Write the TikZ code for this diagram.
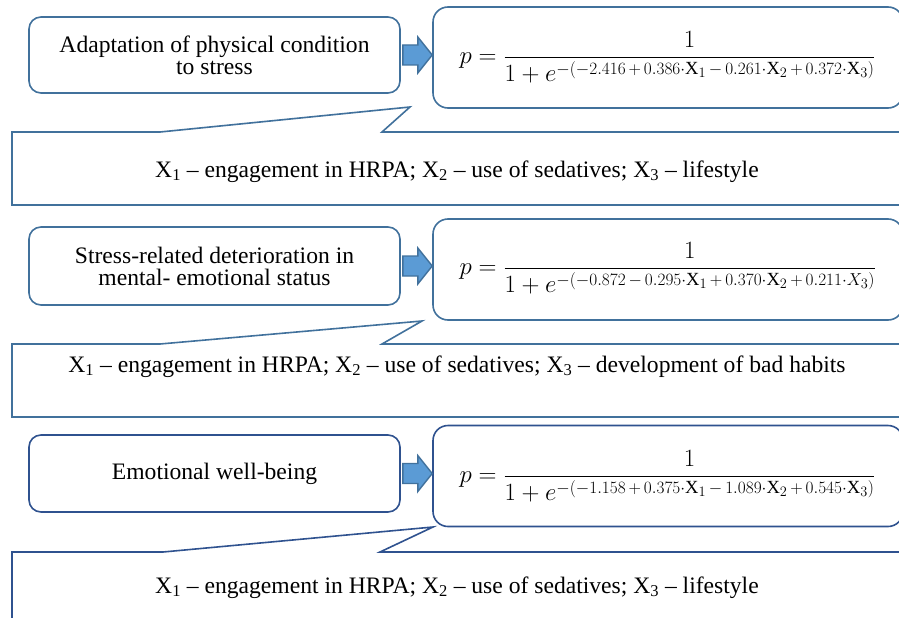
\documentclass[tikz,border=0pt]{standalone}
\usepackage{amsmath}
\usepackage{fontspec}
\setmainfont{Liberation Serif}
\usetikzlibrary{calc}

\definecolor{boxblue}{HTML}{41719C}
\definecolor{darkblue}{HTML}{2F528F}
\definecolor{arrowblue}{HTML}{5B9BD5}

\newcommand{\bop}[1]{\mkern3mu#1\mkern3mu}

\tikzset{
  factor/.style={draw=boxblue,line width=1.6pt,fill=white,rounded corners=12pt,
    minimum width=371pt,minimum height=76pt,align=center,
    font=\fontsize{23.6}{22}\selectfont},
  model/.style={draw=boxblue,line width=1.6pt,fill=white,rounded corners=15pt,
    minimum width=470pt,minimum height=101pt},
  note/.style={draw=boxblue,line width=1.6pt,fill=white,line join=miter},
  notetext/.style={anchor=base,font=\fontsize{23.6}{26}\selectfont},
  formula/.style={anchor=west,font=\fontsize{26.5}{30}\selectfont},
  blockarrow/.style={draw=boxblue,line width=1.4pt,fill=arrowblue,line join=miter}
}

\begin{document}
\begin{tikzpicture}[x=1pt,y=-1pt]
\useasboundingbox (0,0) rectangle (899,618);
\clip (0,0) rectangle (899,618);

% callouts with the variables
\draw[note] (12,132) -- (160,132) -- (410,107) -- (382,132) -- (910,132)
  -- (910,205) -- (12,205) -- cycle;
\draw[note] (12,344) -- (160,344) -- (422,321) -- (382,344) -- (910,344)
  -- (910,417) -- (12,417) -- cycle;
\draw[note,draw=darkblue] (12,552) -- (163,552) -- (433,527) -- (380,552) -- (910,552)
  -- (910,640) -- (12,640) -- cycle;
\node[notetext] (c1) at (457,177) {X\textsubscript{1} – engagement in HRPA; X\textsubscript{2} – use of sedatives; X\textsubscript{3} – lifestyle};
\node[notetext] (c2) at (457,372) {X\textsubscript{1} – engagement in HRPA; X\textsubscript{2} – use of sedatives; X\textsubscript{3} – development of bad habits};
\node[notetext] (c3) at (457,593) {X\textsubscript{1} – engagement in HRPA; X\textsubscript{2} – use of sedatives; X\textsubscript{3} – lifestyle};

% factors
\node[factor] (f1) at (214.5,55) {Adaptation of physical condition\\to stress};
\node[factor,minimum height=78pt] (f2) at (214.5,266) {Stress-related deterioration in\\mental- emotional status};
\node[factor,draw=darkblue,minimum height=77pt] (f3) at (214.5,473.5) {Emotional well-being};

% models
\node[model] (m1) at (668,57.5) {};
\node[model] (m2) at (668,269.5) {};
\node[model,draw=darkblue] (m3) at (668,476) {};
\node[formula] (p1) at (456,57) {$\displaystyle p=\frac{1}{1+e^{-(-2.416\bop{+}0.386\cdot\mathrm{X}_1\bop{-}0.261\cdot\mathrm{X}_2\bop{+}0.372\cdot\mathrm{X}_3)}}$};
\node[formula] (p2) at (456,268) {$\displaystyle p=\frac{1}{1+e^{-(-0.872\bop{-}0.295\cdot\mathrm{X}_1\bop{+}0.370\cdot\mathrm{X}_2\bop{+}0.211\cdot X_3)}}$};
\node[formula] (p3) at (456,476) {$\displaystyle p=\frac{1}{1+e^{-(-1.158\bop{+}0.375\cdot\mathrm{X}_1\bop{-}1.089\cdot\mathrm{X}_2\bop{+}0.545\cdot\mathrm{X}_3)}}$};

% block arrows
\foreach \i in {1,2,3}
  \draw[blockarrow] ($(f\i.east)+(2,-10)$) -- ++(15,0) -- ++(0,-8)
    -- ($(m\i.west|-f\i.east)$) -- ($(f\i.east)+(17,18)$) -- ++(0,-8)
    -- ($(f\i.east)+(2,10)$) -- cycle;
\end{tikzpicture}
\end{document}
